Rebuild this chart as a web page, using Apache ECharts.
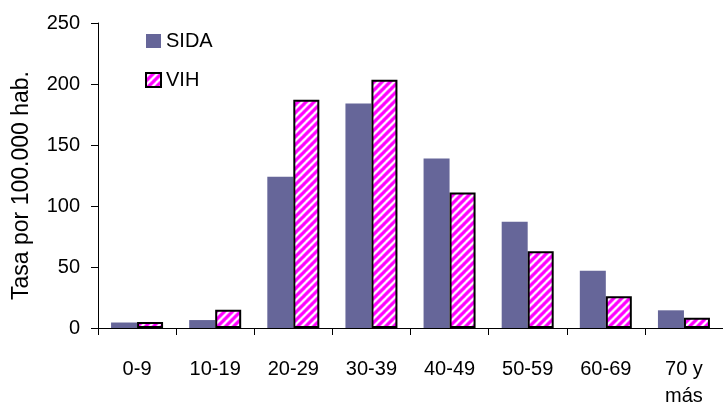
<!DOCTYPE html>
<html>
<head>
<meta charset="utf-8">
<script src="https://cdn.jsdelivr.net/npm/echarts@6/dist/echarts.min.js"></script>
<style>html,body{margin:0;padding:0;background:#fff}#c{width:723px;height:410px}</style>
</head>
<body>
<div id="c"></div>
<script>
const categories = ['0-9', '10-19', '20-29', '30-39', '40-49', '50-59', '60-69', '70 y\nmás'];
const sida = [4.5, 6.5, 124, 184, 139, 87, 47, 14.5];
const vih = [5, 15, 187, 203.5, 111, 63, 26, 8.5];
const yTicks = [0, 50, 100, 150, 200, 250];

function makePattern() {
  const s = 8;
  const cv = document.createElement('canvas');
  cv.width = s; cv.height = s;
  const ctx = cv.getContext('2d');
  ctx.fillStyle = '#ffffff';
  ctx.fillRect(0, 0, s, s);
  for (let k = -1; k <= 1; k++) {
    ctx.strokeStyle = '#ff66ff';
    ctx.lineWidth = 4;
    ctx.beginPath();
    ctx.moveTo(k * s - 1, s + 1);
    ctx.lineTo(k * s + s + 1, -1);
    ctx.stroke();
    ctx.strokeStyle = '#ff00ff';
    ctx.lineWidth = 2.4;
    ctx.beginPath();
    ctx.moveTo(k * s - 1, s + 1);
    ctx.lineTo(k * s + s + 1, -1);
    ctx.stroke();
  }
  return cv;
}

const chart = echarts.init(document.getElementById('c'), null, {renderer: 'canvas'});
const font = '"Liberation Sans", Arial, sans-serif';
chart.setOption({
  animation: false,
  textStyle: {fontFamily: font},
  grid: {left: 98, top: 23, width: 631, height: 310, containLabel: false},
  legend: {
    orient: 'vertical', left: 140, top: 26, itemWidth: 15, itemHeight: 14, itemGap: 19,
    textStyle: {fontSize: 20, color: '#000', fontFamily: font},
    data: [{name: 'SIDA', icon: 'rect'}, {name: 'VIH', icon: 'rect'}]
  },
  xAxis: {
    type: 'category', data: categories,
    axisLine: {lineStyle: {color: '#000', width: 1}},
    axisTick: {show: true, length: 7, lineStyle: {color: '#000'}, alignWithLabel: false},
    axisLabel: {color: '#000', fontSize: 20, margin: 28, lineHeight: 27, interval: 0, fontFamily: font}
  },
  yAxis: {
    type: 'value', min: yTicks[0], max: yTicks[yTicks.length - 1], interval: 50,
    name: 'Tasa por 100.000 hab.', nameLocation: 'middle', nameGap: 65, nameRotate: 90,
    nameTextStyle: {fontSize: 23, color: '#000', fontFamily: font, padding: [0, 20, 0, 0]},
    axisLine: {show: true, lineStyle: {color: '#000', width: 1}},
    axisTick: {show: true, length: 7, lineStyle: {color: '#000'}},
    axisLabel: {color: '#000', fontSize: 20, margin: 18, fontFamily: font},
    splitLine: {show: false}
  },
  series: [
    {name: 'SIDA', type: 'bar', data: sida, barWidth: 26, barGap: '0%',
     itemStyle: {color: '#666699'}},
    {name: 'VIH', type: 'bar', data: vih, barWidth: 26,
     itemStyle: {color: {image: makePattern(), repeat: 'repeat'}, borderColor: '#000', borderWidth: 2}}
  ]
});
</script>
</body>
</html>
